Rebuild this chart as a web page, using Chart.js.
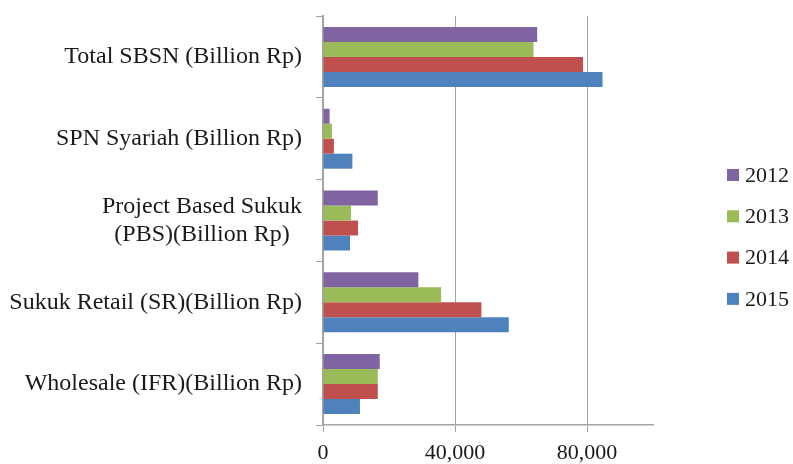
<!DOCTYPE html>
<html lang="en">
<head>
<meta charset="UTF-8">
<title>SBSN Issuance 2012-2015</title>
<style>
  html, body { margin: 0; padding: 0; background: #fff; }
</style>
</head>
<body>
<canvas id="sbsnChart" width="793" height="464"></canvas>

<script src="https://cdn.jsdelivr.net/npm/chart.js"></script>
<script>
  // categories, one entry per row (multi-line labels as arrays)
  const categories = [
    ['Total SBSN (Billion Rp)'],
    ['SPN Syariah (Billion Rp)'],
    ['Project Based Sukuk', '(PBS)(Billion Rp)'],
    ['Sukuk Retail (SR)(Billion Rp)'],
    ['Wholesale (IFR)(Billion Rp)']
  ];
  const years = ['2012', '2013', '2014', '2015'];
  const values2012 = [64900, 2000, 16600, 28900, 17200];
  const values2013 = [63800, 2700, 8500, 35800, 16600];
  const values2014 = [78800, 3300, 10600, 48000, 16600];
  const values2015 = [84700, 8900, 8200, 56300, 11200];
  const xTicks = [0, 40000, 80000];
  const colors = ['#8064A2', '#9BBB59', '#C0504D', '#4F81BD'];

  const serif = '"Liberation Serif", "DejaVu Serif", serif';
  const textColor = '#1a1a1a';
  const gridColor = '#a3a3a3';

  // row labels: right edge fixed, multi-line blocks centred on themselves
  const rowLabels = {
    id: 'rowLabels',
    afterDraw(chart) {
      const { ctx, chartArea, scales } = chart;
      const right = chartArea.left - 21;
      ctx.save();
      ctx.font = '24px ' + serif;
      ctx.fillStyle = textColor;
      ctx.textAlign = 'center';
      ctx.textBaseline = 'middle';
      categories.forEach((lines, i) => {
        const yc = scales.y.getPixelForValue(i);
        const w = Math.max(...lines.map(l => ctx.measureText(l).width));
        lines.forEach((l, k) => {
          ctx.fillText(l, right - w / 2, yc + (k - (lines.length - 1) / 2) * 28);
        });
      });
      ctx.restore();
    }
  };

  // legend column on the right
  const sideLegend = {
    id: 'sideLegend',
    afterDraw(chart) {
      const { ctx, chartArea } = chart;
      const x = chartArea.right + 74;
      ctx.save();
      ctx.font = '22px ' + serif;
      ctx.textBaseline = 'middle';
      chart.data.datasets.forEach((ds, i) => {
        const yc = chartArea.top + 159 + i * 41.3;
        ctx.fillStyle = ds.backgroundColor;
        ctx.fillRect(x, yc - 6, 12, 12);
        ctx.fillStyle = textColor;
        ctx.fillText(ds.label, x + 18, yc + 1);
      });
      ctx.restore();
    }
  };

  const series = [values2012, values2013, values2014, values2015];

  new Chart(document.getElementById('sbsnChart'), {
    type: 'bar',
    data: {
      labels: categories.map(c => c.join(' ')),
      datasets: years.map((yr, i) => ({
        label: yr,
        data: series[i],
        backgroundColor: colors[i],
        borderWidth: 0,
        barPercentage: 1,
        categoryPercentage: 0.733
      }))
    },
    options: {
      indexAxis: 'y',
      responsive: false,
      devicePixelRatio: 1,
      animation: false,
      layout: { padding: { top: 16, right: 140, left: 0, bottom: 0 } },
      plugins: {
        legend: { display: false },
        tooltip: { enabled: false }
      },
      scales: {
        y: {
          grid: {
            drawOnChartArea: false,
            drawTicks: true,
            tickLength: 7,
            offset: true,
            color: gridColor
          },
          border: { color: gridColor, width: 2 },
          ticks: { display: false },
          afterFit: s => { s.width = 323; }
        },
        x: {
          min: 0,
          max: 100000,
          afterBuildTicks: s => { s.ticks = xTicks.map(v => ({ value: v })); },
          grid: { color: gridColor, tickLength: 7 },
          border: { color: gridColor, width: 1.5 },
          ticks: {
            padding: 8,
            maxRotation: 0,
            color: textColor,
            font: { family: serif, size: 22 },
            callback: v => v.toLocaleString('en-US')
          },
          afterFit: s => { s.height = 39; }
        }
      }
    },
    plugins: [rowLabels, sideLegend]
  });
</script>
</body>
</html>
